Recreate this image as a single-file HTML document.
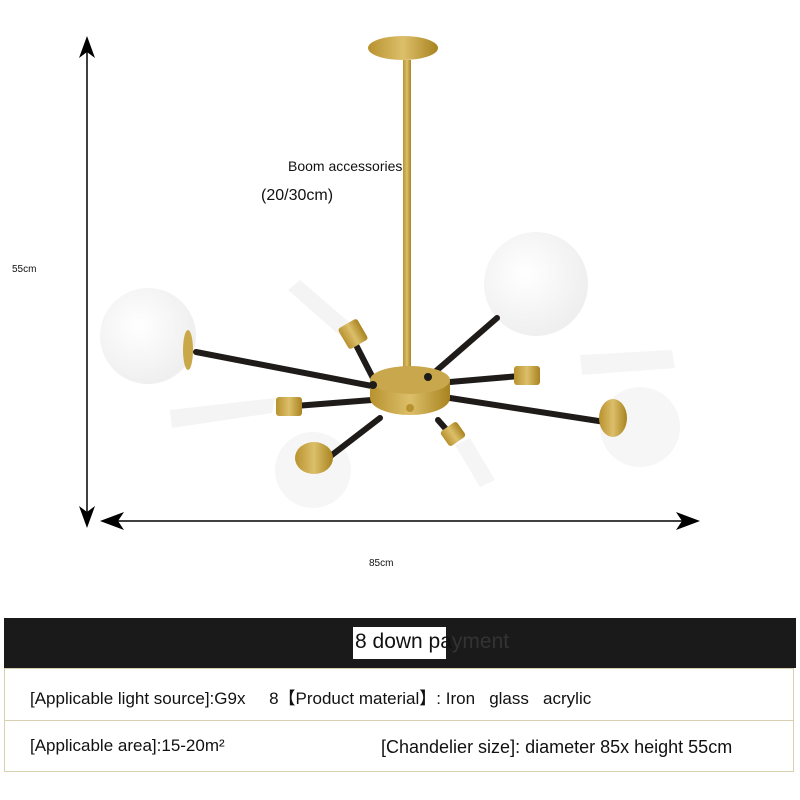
<!DOCTYPE html>
<html><head><meta charset="utf-8"><style>
body{margin:0;width:800px;height:800px;background:#fff;position:relative;overflow:hidden;font-family:"Liberation Sans",sans-serif}
.t{position:absolute;color:#111;white-space:nowrap}
</style></head><body>
<svg width="800" height="800" style="position:absolute;left:0;top:0">
<defs>
<radialGradient id="g" cx="40%" cy="40%" r="60%"><stop offset="0" stop-color="#fff"/><stop offset="1" stop-color="#efefef"/></radialGradient>
<linearGradient id="au" x1="0" x2="1"><stop offset="0" stop-color="#b8922f"/><stop offset=".5" stop-color="#dcbf6a"/><stop offset="1" stop-color="#a8831f"/></linearGradient>
</defs>
<line x1="87" y1="50" x2="87" y2="515" stroke="#000" stroke-width="1.5"/>
<polygon points="87,36 79,58 87,52 95,58" fill="#000"/>
<polygon points="87,528 79,506 87,512 95,506" fill="#000"/>
<line x1="112" y1="521" x2="688" y2="521" stroke="#000" stroke-width="1.5"/>
<polygon points="100,521 124,512 118,521 124,530" fill="#000"/>
<polygon points="700,521 676,512 682,521 676,530" fill="#000"/>
<polygon points="288,290 300,280 358,330 345,340" fill="#f4f4f4"/>
<polygon points="170,410 275,398 272,413 172,428" fill="#f4f4f4"/>
<polygon points="580,355 672,350 675,368 582,375" fill="#f5f5f5"/>
<polygon points="455,445 470,438 495,480 480,487" fill="#f5f5f5"/>
<circle cx="148" cy="336" r="48" fill="url(#g)"/>
<circle cx="536" cy="284" r="52" fill="url(#g)"/>
<circle cx="640" cy="427" r="40" fill="#f6f6f6"/>
<circle cx="313" cy="470" r="38" fill="#f6f6f6"/>
<ellipse cx="403" cy="48" rx="35" ry="12" fill="url(#au)"/>
<rect x="403" y="60" width="8" height="312" fill="url(#au)"/>
<g stroke="#1e1b18" stroke-width="6" stroke-linecap="round">
<line x1="372" y1="386" x2="196" y2="352"/>
<line x1="428" y1="378" x2="497" y2="318"/>
<line x1="450" y1="398" x2="605" y2="422"/>
<line x1="380" y1="418" x2="328" y2="458"/>
<line x1="375" y1="382" x2="355" y2="343"/>
<line x1="372" y1="400" x2="295" y2="406"/>
<line x1="450" y1="382" x2="520" y2="376"/>
<line x1="438" y1="420" x2="452" y2="436"/>
</g>
<rect x="276" y="397" width="26" height="19" rx="3" fill="url(#au)"/>
<rect x="514" y="366" width="26" height="19" rx="3" fill="url(#au)"/>
<rect x="342" y="322" width="22" height="24" rx="3" fill="url(#au)" transform="rotate(-30 353 334)"/>
<rect x="443" y="425" width="20" height="18" rx="3" fill="url(#au)" transform="rotate(-35 453 434)"/>
<ellipse cx="314" cy="458" rx="19" ry="16" fill="url(#au)"/>
<ellipse cx="613" cy="418" rx="14" ry="19" fill="url(#au)"/>
<ellipse cx="188" cy="350" rx="5" ry="20" fill="#c9a84a"/>
<path d="M370 380 L370 398 A40 17 0 0 0 450 398 L450 380 Z" fill="url(#au)"/>
<ellipse cx="410" cy="380" rx="40" ry="14" fill="#c9a74d"/>
<circle cx="410" cy="408" r="4" fill="#b8922f"/>
<circle cx="373" cy="385" r="4" fill="#1e1b18"/>
<circle cx="428" cy="377" r="4" fill="#1e1b18"/>
</svg>
<div class="t" style="left:288px;top:158px;font-size:14px">Boom accessories</div>
<div class="t" style="left:261px;top:187px;font-size:16px">(20/30cm)</div>
<div class="t" style="left:12px;top:264px;font-size:10px">55cm</div>
<div class="t" style="left:369px;top:558px;font-size:10px">85cm</div>
<div style="position:absolute;left:4px;top:618px;width:792px;height:50px;background:#1a1a1a"></div>
<div style="position:absolute;left:353px;top:627px;width:93px;height:32px;background:#fff"></div>
<div class="t" style="left:355px;top:630px;font-size:21px">8 down pa<span style="color:#333">yment</span></div>
<div style="position:absolute;left:4px;top:668px;width:790px;height:104px;border:1px solid #d8d0b0;box-sizing:border-box"></div>
<div style="position:absolute;left:4px;top:720px;width:790px;height:1px;background:#d8d0b0"></div>
<div class="t" style="left:30px;top:684px;font-size:17px">[Applicable light source]:G9x &nbsp;&nbsp;&nbsp;&nbsp;8【Product material】: Iron &nbsp;&nbsp;glass &nbsp;&nbsp;acrylic</div>
<div class="t" style="left:30px;top:736px;font-size:17px">[Applicable area]:15-20m²</div>
<div class="t" style="left:381px;top:737px;font-size:18px">[Chandelier size]: diameter 85x height 55cm</div>
</body></html>
